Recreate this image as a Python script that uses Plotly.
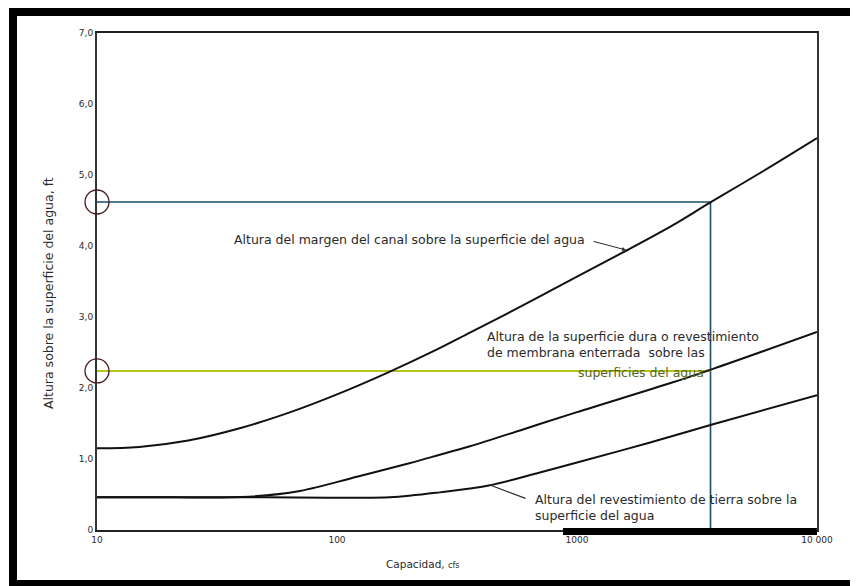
import plotly.graph_objects as go

# ---------------- data ----------------
q_margin = [10, 15, 24, 40, 64, 100, 161, 260, 358, 600, 1000, 1616, 2500, 3580, 6000, 10000]
h_margin = [1.15, 1.17, 1.26, 1.44, 1.66, 1.91, 2.21, 2.54, 2.78, 3.17, 3.57, 3.94, 4.29, 4.61, 5.06, 5.52]

q_hard = [10, 20, 43, 70, 121, 200, 268, 358, 600, 1000, 2512, 3690, 10000]
h_hard = [0.46, 0.46, 0.47, 0.55, 0.75, 0.94, 1.06, 1.18, 1.42, 1.66, 2.08, 2.27, 2.79]

q_earth = [10, 50, 100, 166, 268, 434, 700, 1000, 2000, 3690, 10000]
h_earth = [0.46, 0.46, 0.455, 0.46, 0.53, 0.63, 0.81, 0.95, 1.23, 1.49, 1.90]

q_design = 3600          # caudal de diseño (línea vertical)
h_bank = 4.62            # altura del margen leída
h_lining = 2.24          # altura del revestimiento leída

y_ticks = [0, 1, 2, 3, 4, 5, 6, 7]
y_ticktext = ["0", "1,0", "2,0", "3,0", "4,0", "5,0", "6,0", "7,0"]
x_ticks = [10, 100, 1000, 10000]
x_ticktext = ["10", "100", "1000", "10 000"]

# ---------------- layout geometry ----------------
OFF = 8                      # default page margin of the html body
W, H = 858 - OFF, 586 - OFF
L, R, T, B = 97, 817, 33, 530  # plot area in screen pixels
pw, ph = R - L, B - T


def px(x):
    return (x - L) / pw


def py(y):
    return (B - y) / ph


FONT = "DejaVu Sans"
ink = "#2a2a2a"

fig = go.Figure()

# reading lines
fig.add_trace(go.Scatter(x=[10, q_design, q_design], y=[h_bank, h_bank, 0], mode="lines",
                         line=dict(color="#1d4c6c", width=1.6), hoverinfo="skip"))
fig.add_trace(go.Scatter(x=[10, q_design], y=[h_lining, h_lining], mode="lines",
                         line=dict(color="#b6c41c", width=2), hoverinfo="skip"))

for q, h in [(q_margin, h_margin), (q_hard, h_hard), (q_earth, h_earth)]:
    fig.add_trace(go.Scatter(x=q, y=h, mode="lines",
                             line=dict(color="#111111", width=2, shape="spline", smoothing=1.0),
                             hoverinfo="skip"))

shapes = []
# outer scan frame
shapes.append(dict(type="rect", xref="paper", yref="paper", x0=px(9), x1=px(17), y0=py(590), y1=py(8),
                   fillcolor="black", line=dict(width=0), layer="above"))
shapes.append(dict(type="rect", xref="paper", yref="paper", x0=px(9), x1=px(870), y0=py(16), y1=py(8),
                   fillcolor="black", line=dict(width=0), layer="above"))
shapes.append(dict(type="rect", xref="paper", yref="paper", x0=px(9), x1=px(870), y0=py(590), y1=py(580),
                   fillcolor="black", line=dict(width=0), layer="above"))
# thick part of bottom axis
shapes.append(dict(type="rect", xref="paper", yref="paper", x0=px(563), x1=1.0, y0=py(535), y1=py(528),
                   fillcolor="black", line=dict(width=0), layer="above"))
# circles at the y axis
for hv in [h_bank, h_lining]:
    shapes.append(dict(type="circle", xref="paper", yref="y", xsizemode="pixel", ysizemode="pixel",
                       xanchor=0, yanchor=hv, x0=-12, x1=12, y0=-12, y1=12,
                       line=dict(color="#4a1c1c", width=1.3), layer="above"))

ann = []
tf = dict(family=FONT, size=12.5, color=ink)
ann.append(dict(xref="paper", yref="paper", x=px(232), y=py(240), xanchor="left", yanchor="middle",
                text="Altura del margen del canal sobre la superficie del agua", showarrow=False, font=tf))
ann.append(dict(xref="paper", yref="paper", x=px(485), y=py(344), xanchor="left", yanchor="middle", align="left",
                text="Altura de la superficie dura o revestimiento<br>de membrana enterrada  sobre las",
                showarrow=False, font=tf))
ann.append(dict(xref="paper", yref="paper", x=px(706), y=py(372), xanchor="right", yanchor="middle",
                text="superficies del agua", showarrow=False, font=dict(family=FONT, size=12.5, color="#5a6420")))
ann.append(dict(xref="paper", yref="paper", x=px(533), y=py(507), xanchor="left", yanchor="middle", align="left",
                text="Altura del revestimiento de tierra sobre la<br>superficie del agua", showarrow=False, font=tf))
# arrows (pixel offsets of the tail from the head)
ann.append(dict(xref="paper", yref="paper", x=px(626), y=py(250), ax=-34, ay=-9,
                text="", showarrow=True, arrowhead=2, arrowsize=0.8, arrowwidth=1, arrowcolor=ink))
ann.append(dict(xref="paper", yref="paper", x=px(712), y=py(369), ax=-8, ay=2,
                text="", showarrow=True, arrowhead=0, arrowwidth=1, arrowcolor=ink))
ann.append(dict(xref="paper", yref="paper", x=px(490), y=py(485), ax=37, ay=14,
                text="", showarrow=True, arrowhead=0, arrowwidth=1.2, arrowcolor=ink))
# axis titles
ann.append(dict(xref="paper", yref="paper", x=px(48), y=py(293), xanchor="center", yanchor="middle", textangle=-90,
                text="Altura sobre la superficie del agua, ft", showarrow=False,
                font=dict(family=FONT, size=12.5, color=ink)))
ann.append(dict(xref="paper", yref="paper", x=px(422), y=py(564), xanchor="center", yanchor="middle",
                text="Capacidad, <span style='font-size:8px'>cfs</span>", showarrow=False,
                font=dict(family=FONT, size=10.5, color=ink)))

fig.update_layout(
    width=W, height=H, margin=dict(l=L - OFF, r=W - (R - OFF), t=T - OFF, b=H - (B - OFF)),
    paper_bgcolor="white", plot_bgcolor="white", showlegend=False,
    shapes=shapes, annotations=ann,
    xaxis=dict(type="log", range=[1, 4], tickvals=x_ticks, ticktext=x_ticktext, showgrid=False, zeroline=False,
               showline=True, linecolor="#222222", linewidth=2, mirror=True, ticks="",
               tickfont=dict(family=FONT, size=9, color=ink)),
    yaxis=dict(range=[0, 7], tickvals=y_ticks, ticktext=y_ticktext, showgrid=False, zeroline=False,
               showline=True, linecolor="#333333", linewidth=2, mirror=True, ticks="",
               tickfont=dict(family=FONT, size=9, color=ink)),
)

fig.write_html("out.html")
